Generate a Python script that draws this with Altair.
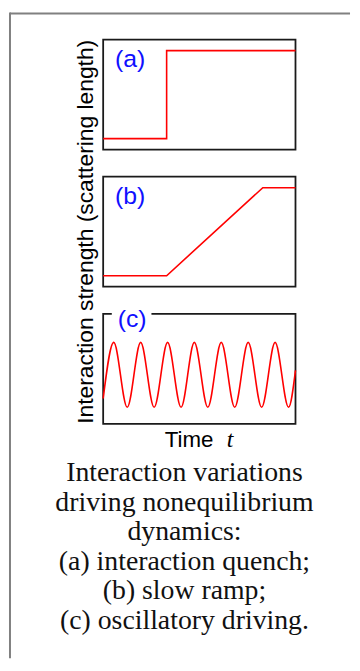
import altair as alt
import pandas as pd

# ---- data ----
quench_t = [0.0, 0.33, 0.33, 1.0]
quench_g = [0.10, 0.10, 0.90, 0.90]

ramp_t = [0.0, 0.33, 0.83, 1.0]
ramp_g = [0.10, 0.10, 0.90, 0.90]

osc_t = [0.0, 0.055, 0.125, 0.195, 0.265, 0.335, 0.405, 0.474, 0.544,
         0.614, 0.684, 0.754, 0.824, 0.894, 0.964, 1.0]
osc_g = [0.23, 0.74, 0.15, 0.74, 0.15, 0.74, 0.15, 0.74, 0.15,
         0.74, 0.15, 0.74, 0.15, 0.74, 0.15, 0.485]

panel_labels = ["(a)", "(b)", "(c)"]
y_title = "Interaction strength (scattering length)"
x_title = "Time"
x_symbol = "t"
caption_lines = [
    "Interaction variations",
    "driving nonequilibrium",
    "dynamics:",
    "(a) interaction quench;",
    "(b) slow ramp;",
    "(c) oscillatory driving.",
]

W, H = 194, 111
SANS = "Liberation Sans"
SERIF = "Liberation Serif"
one = pd.DataFrame({"k": [0]})


def line_layer(ts, gs):
    df = pd.DataFrame({"t": ts, "g": gs, "i": list(range(len(ts)))})
    interp = "monotone" if len(ts) > 4 else "linear"
    return alt.Chart(df).mark_line(
        color="#ff0000", strokeWidth=1.6, interpolate=interp
    ).encode(
        x=alt.X("t:Q", scale=alt.Scale(domain=[0, 1], nice=False, zero=False), axis=None),
        y=alt.Y("g:Q", scale=alt.Scale(domain=[0, 1], nice=False, zero=False), axis=None),
        order=alt.Order("i:Q"),
    )


def border():
    return alt.Chart(one).mark_rect(
        fill="transparent", stroke="#1a1a1a", strokeWidth=1.8
    ).encode(x=alt.value(0), x2=alt.value(W), y=alt.value(0), y2=alt.value(H))


def label(text, x, y):
    return alt.Chart(one).mark_text(
        text=text, font=SANS, fontSize=25, color="#1010ff",
        align="left", baseline="alphabetic"
    ).encode(x=alt.value(x), y=alt.value(y))


# outer frame (top and left edges)
frame_top = alt.Chart(one).mark_rule(color="#808080", strokeWidth=2).encode(
    x=alt.value(-94), x2=alt.value(249), y=alt.value(-26.3)
)
frame_left = alt.Chart(one).mark_rule(color="#808080", strokeWidth=2).encode(
    x=alt.value(-94), y=alt.value(-27.3), y2=alt.value(624)
)

panel_a = alt.layer(
    frame_top, frame_left,
    border(), line_layer(quench_t, quench_g), label(panel_labels[0], 12, 27.7)
).properties(width=W, height=H)

ytitle = alt.Chart(one).mark_text(
    text=y_title, font=SANS, fontSize=23, color="black",
    angle=270, align="center", baseline="alphabetic"
).encode(x=alt.value(-10.3), y=alt.value(55.6))

panel_b = alt.layer(
    border(), line_layer(ramp_t, ramp_g), label(panel_labels[1], 12, 28), ytitle
).properties(width=W, height=H)

gap = alt.Chart(one).mark_rect(fill="white").encode(
    x=alt.value(8.7), x2=alt.value(48.7), y=alt.value(-3), y2=alt.value(3)
)
time_txt = alt.Chart(one).mark_text(
    text=x_title, font=SANS, fontSize=22.5, color="black",
    align="left", baseline="alphabetic"
).encode(x=alt.value(62), y=alt.value(134))
t_txt = alt.Chart(one).mark_text(
    text=x_symbol, font=SERIF, fontStyle="italic", fontSize=24, color="black",
    align="left", baseline="alphabetic"
).encode(x=alt.value(124.7), y=alt.value(134))
caption = alt.Chart(one).mark_text(
    text=caption_lines, font=SERIF, fontSize=28, color="#111111",
    align="center", baseline="alphabetic", lineHeight=29.8
).encode(x=alt.value(82), y=alt.value(169))

panel_c = alt.layer(
    border(), line_layer(osc_t, osc_g), gap, label(panel_labels[2], 14.7, 13.7),
    time_txt, t_txt, caption
).properties(width=W, height=H)

chart = alt.vconcat(
    panel_a, panel_b, panel_c, spacing=27.3, bounds="flush"
).properties(padding=0).configure_view(stroke="transparent")

chart.save("out.html", embed_options={"renderer": "svg", "actions": False})
